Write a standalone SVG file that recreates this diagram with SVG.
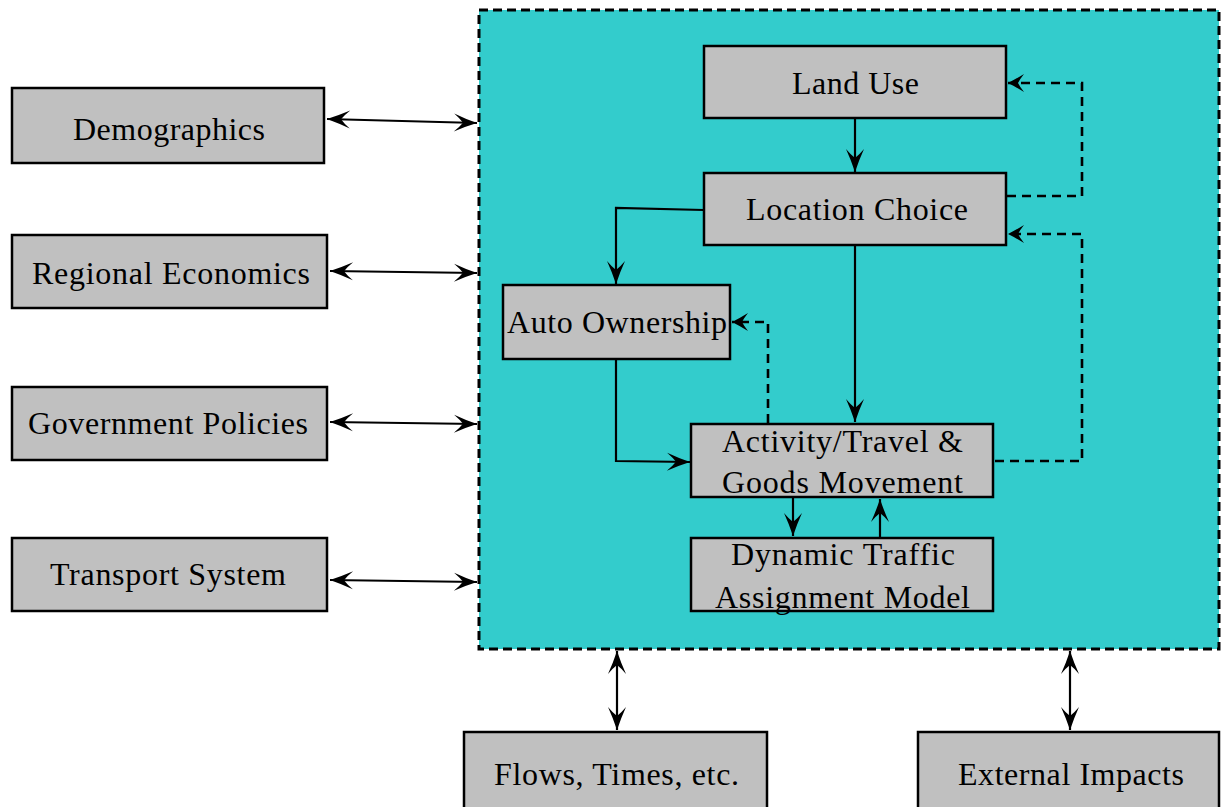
<svg xmlns="http://www.w3.org/2000/svg" width="1221" height="807" viewBox="0 0 1221 807">
<style>
.box{fill:#C0C0C0;stroke:#000;stroke-width:2.5}
.frame{fill:#33CCCC;stroke:#000;stroke-width:3;stroke-dasharray:9 5}
.t{font-family:"Liberation Serif","Times New Roman",serif;font-size:32px;fill:#000;text-anchor:middle}
.c{fill:none;stroke:#000;stroke-width:2.2}
.d{fill:none;stroke:#000;stroke-width:2.6;stroke-dasharray:9 6}
</style>
<defs>
<marker id="ah" markerUnits="userSpaceOnUse" viewBox="-26 -11 28 22" refX="0" refY="0" markerWidth="28" markerHeight="22" orient="auto-start-reverse">
<path d="M0,0 Q-12,-4 -23,-9 Q-17,-4 -14,0 Q-17,4 -23,9 Q-12,4 0,0 Z" fill="#000"/>
</marker>
<marker id="oh" markerUnits="userSpaceOnUse" viewBox="-20 -11 22 22" refX="0" refY="0" markerWidth="22" markerHeight="22" orient="auto">
<path d="M0,0 Q-8,-4 -16,-9 Q-12,-4 -10,0 Q-12,4 -16,9 Q-8,4 0,0 Z" fill="#000"/>
</marker>
</defs>
<rect x="479" y="10" width="740" height="639" class="frame"/>
<g id="connectors">
<line x1="327" y1="119" x2="477" y2="123" class="c" marker-start="url(#ah)" marker-end="url(#ah)"/>
<line x1="330" y1="271" x2="477" y2="273" class="c" marker-start="url(#ah)" marker-end="url(#ah)"/>
<line x1="330" y1="422" x2="477" y2="424" class="c" marker-start="url(#ah)" marker-end="url(#ah)"/>
<line x1="330" y1="580" x2="477" y2="582" class="c" marker-start="url(#ah)" marker-end="url(#ah)"/>
<line x1="617" y1="651" x2="617" y2="730" class="c" marker-start="url(#ah)" marker-end="url(#ah)"/>
<line x1="1070" y1="651" x2="1070" y2="730" class="c" marker-start="url(#ah)" marker-end="url(#ah)"/>
<line x1="855" y1="119" x2="855" y2="172" class="c" marker-end="url(#ah)"/>
<polyline points="704,210 616,208 616,284" class="c" marker-end="url(#ah)"/>
<line x1="855" y1="245" x2="855" y2="422" class="c" marker-end="url(#ah)"/>
<polyline points="616,360 616,461 690,462" class="c" marker-end="url(#ah)"/>
<line x1="793" y1="498" x2="793" y2="536" class="c" marker-end="url(#ah)"/>
<line x1="880" y1="537" x2="880" y2="499" class="c" marker-end="url(#ah)"/>
<polyline points="1007,196 1082,196 1082,83 1008,83" class="d" marker-end="url(#oh)"/>
<polyline points="995,461 1082,461 1082,234 1008,234" class="d" marker-end="url(#oh)"/>
<polyline points="768,423 768,322 732,322" class="d" marker-end="url(#oh)"/>
</g>
<g id="demographics"><rect x="12" y="88" width="312" height="75" class="box"/><text class="t" x="169" y="140" textLength="192" lengthAdjust="spacing">Demographics</text></g>
<g id="regional-economics"><rect x="12" y="235" width="315" height="73" class="box"/><text class="t" x="171" y="284" textLength="278" lengthAdjust="spacing">Regional Economics</text></g>
<g id="government-policies"><rect x="12" y="387" width="315" height="73" class="box"/><text class="t" x="168" y="434" textLength="280" lengthAdjust="spacing">Government Policies</text></g>
<g id="transport-system"><rect x="12" y="538" width="315" height="73" class="box"/><text class="t" x="168" y="585" textLength="236" lengthAdjust="spacing">Transport System</text></g>
<g id="land-use"><rect x="704" y="46" width="302" height="72" class="box"/><text class="t" x="855.5" y="94" textLength="127" lengthAdjust="spacing">Land Use</text></g>
<g id="location-choice"><rect x="704" y="173" width="302" height="72" class="box"/><text class="t" x="857" y="220" textLength="222" lengthAdjust="spacing">Location Choice</text></g>
<g id="auto-ownership"><rect x="503" y="285" width="227" height="74" class="box"/><text class="t" x="617" y="333" textLength="220" lengthAdjust="spacing">Auto Ownership</text></g>
<g id="activity-travel"><rect x="691" y="424" width="302" height="73" class="box"/><text class="t" x="842.5" y="452" textLength="241" lengthAdjust="spacing">Activity/Travel &amp;</text><text class="t" x="842.5" y="493" textLength="241" lengthAdjust="spacing">Goods Movement</text></g>
<g id="dynamic-traffic"><rect x="691" y="538" width="302" height="73" class="box"/><text class="t" x="843" y="565" textLength="224" lengthAdjust="spacing">Dynamic Traffic</text><text class="t" x="842.5" y="608" textLength="255" lengthAdjust="spacing">Assignment Model</text></g>
<g id="flows-times"><rect x="464" y="732" width="303" height="80" class="box"/><text class="t" x="616.5" y="785" textLength="245" lengthAdjust="spacing">Flows, Times, etc.</text></g>
<g id="external-impacts"><rect x="918" y="732" width="301" height="80" class="box"/><text class="t" x="1071" y="785" textLength="226" lengthAdjust="spacing">External Impacts</text></g>
</svg>
